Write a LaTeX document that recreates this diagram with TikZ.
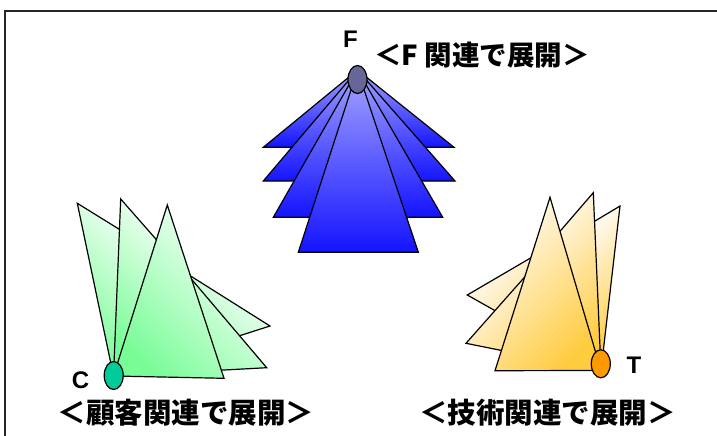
\documentclass[tikz,border=0pt]{standalone}
\usepackage{fontspec}
\usetikzlibrary{shapes.geometric}
\setmainfont{Liberation Sans}
\newfontfamily\cjk{Noto Sans CJK JP}
\definecolor{blueL}{RGB}{165,165,255}
\definecolor{blueD}{RGB}{20,20,255}
\definecolor{greenL}{RGB}{238,255,242}
\definecolor{greenD}{RGB}{120,252,150}
\definecolor{orangeL}{RGB}{255,249,238}
\definecolor{orangeD}{RGB}{255,204,64}
\definecolor{fEll}{RGB}{102,102,153}
\definecolor{cEll}{RGB}{0,204,153}
\definecolor{tEll}{RGB}{255,153,0}
\begin{document}
\begin{tikzpicture}[x=1pt,y=-1pt,
  tri/.style={draw=black,line width=1.2pt,line join=miter},
  bluetri/.style={tri,top color=blueL,bottom color=blueD},
  greentri/.style={tri,top color=greenL,bottom color=greenD,shading angle=-45},
  orangetri/.style={tri,top color=orangeL,bottom color=orangeD,shading angle=45},
  hub/.style={draw=black,line width=1.2pt,ellipse,minimum width=19pt,minimum height=28pt,inner sep=0pt},
  letter/.style={font=\fontsize{24}{24}\selectfont\bfseries,inner sep=0pt},
  caption/.style={font=\cjk\bfseries\fontsize{#1}{#1}\selectfont,inner sep=0pt}]
\useasboundingbox (0,0) rectangle (717,436);
\clip (0,0) rectangle (717,436);
\draw[line width=1.6pt,black!85] (5,11) rectangle (740,460);

% ---------- F group ----------
\coordinate (fa) at (357.5,70);
\path[bluetri] (fa) -- (263.3,147.3) -- (454,147.3) -- cycle;
\path[bluetri] (fa) -- (263.3,181) -- (455,181) -- cycle;
\path[bluetri] (fa) -- (273.3,217.3) -- (442.7,217.3) -- cycle;
\path[bluetri] (fa) -- (298.3,252.3) -- (418.3,252.3) -- cycle;
\node[hub,fill=fEll] (F) at (357.5,79.5) {};
\node[letter] (Flab) at (350.5,39.5) {F};
\node[caption=27.5] (Fcap) at (482,55) {＜F 関連で展開＞};

% ---------- C group ----------
\coordinate (co) at (113.5,376);
\path[greentri] (co) -- (77.3,203.3) -- (140.3,242.3) -- cycle;
\path[greentri] (co) -- (120.7,199) -- (167.5,252.3) -- cycle;
\path[greentri] (co) -- (270,326) -- (176,266.8) -- cycle;
\path[greentri] (co) -- (266.7,367.7) -- (173.5,258) -- cycle;
\path[greentri] (co) -- (167.3,205) -- (224,378.3) -- cycle;
\node[hub,fill=cEll] (C) at (113.7,375.5) {};
\node[letter] (Clab) at (80.5,380) {C};
\node[caption=28.5] (Ccap) at (186,413) {＜顧客関連で展開＞};

% ---------- T group ----------
\coordinate (to) at (601,370.5);
\path[orangetri] (to) -- (467.3,295) -- (548.8,247.3) -- cycle;
\path[orangetri] (to) -- (466,343.3) -- (542.7,256.7) -- cycle;
\path[orangetri] (to) -- (620,206) -- (585,227) -- cycle;
\path[orangetri] (to) -- (593.3,192.7) -- (536.4,258.6) -- cycle;
\path[orangetri] (550,197.3) -- (495,370.7) -- (to) -- cycle;
\node[hub,fill=tEll] (T) at (600.8,363.8) {};
\node[letter] (Tlab) at (634,365) {T};
\node[caption=28.5] (Tcap) at (547.5,413) {＜技術関連で展開＞};
\end{tikzpicture}
\end{document}
